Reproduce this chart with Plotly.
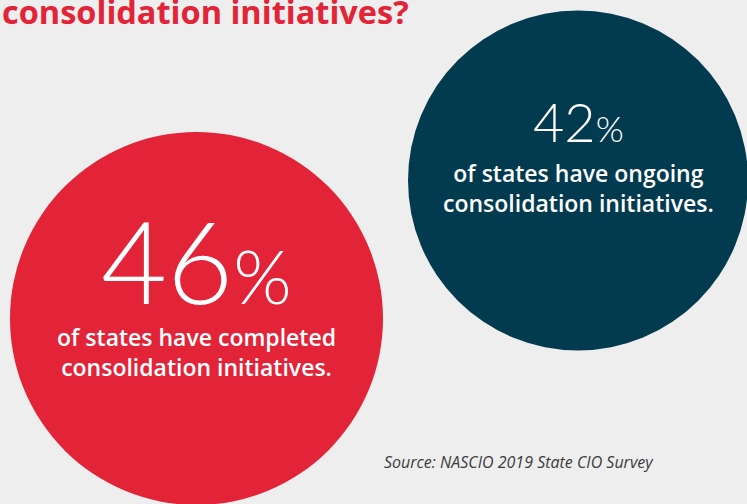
import plotly.graph_objects as go

# ---- data ----
title_text = "consolidation initiatives?"
shares = [46, 42]
share_labels = ["of states have completed<br>consolidation initiatives.",
                "of states have ongoing<br>consolidation initiatives."]
source_text = "Source: NASCIO 2019 State CIO Survey"

# ---- layout / styling (pixel coordinates) ----
W, H = 747, 504
BG = "#EDEEED"
RED = "#E32337"
NAVY = "#023B50"
colors = [RED, NAVY]
centers = [(196.5, 318.5), (578, 180.5)]
radii = [186.5, 170]
big_sizes = [114, 54]
pct_sizes = [75, 36]
big_box_h = [102, 52]
big_y = [259, 121]
sub_y = [352, 187.5]
sub_size = 23
NUM_FONT = "Lato"
FONT = "Open Sans"

fig = go.Figure()
fig.add_trace(go.Scatter(x=[0, W], y=[0, H], mode="markers",
                         marker=dict(opacity=0), hoverinfo="skip", showlegend=False))

shapes = []
annotations = []
for i, v in enumerate(shares):
    cx, cy = centers[i]
    r = radii[i]
    shapes.append(dict(type="circle", xref="x", yref="y",
                       x0=cx - r, x1=cx + r, y0=cy - r, y1=cy + r,
                       fillcolor=colors[i], line=dict(width=0), layer="below"))
    annotations.append(dict(
        x=cx, y=big_y[i], xref="x", yref="y", xanchor="center", yanchor="middle",
        text=f"{v}<span style='font-size:{pct_sizes[i]}px'>%</span>",
        showarrow=False, height=big_box_h[i], valign="middle", borderpad=0,
        font=dict(family=NUM_FONT, size=big_sizes[i], color="white", weight=300)))
    annotations.append(dict(
        x=cx, y=sub_y[i], xref="x", yref="y", xanchor="center", yanchor="middle",
        text=share_labels[i], showarrow=False, align="center",
        font=dict(family=FONT, size=sub_size, color="white", weight=600)))

annotations.append(dict(
    x=0, y=36, xref="x", yref="y", xanchor="left", yanchor="bottom",
    text=f"<b>{title_text}</b>", showarrow=False,
    font=dict(family=FONT, size=32.5, color=RED)))
annotations.append(dict(
    x=518.5, y=462, xref="x", yref="y", xanchor="center", yanchor="middle",
    text=f"<i>{source_text}</i>", showarrow=False,
    font=dict(family=FONT, size=16, color="#3c3c3c")))

fig.update_layout(
    width=W, height=H, margin=dict(l=0, r=0, t=0, b=0),
    paper_bgcolor=BG, plot_bgcolor=BG,
    xaxis=dict(range=[0, W], visible=False, fixedrange=True),
    yaxis=dict(range=[H, 0], visible=False, fixedrange=True),
    shapes=shapes, annotations=annotations, showlegend=False,
)

fig.write_html("out.html")
